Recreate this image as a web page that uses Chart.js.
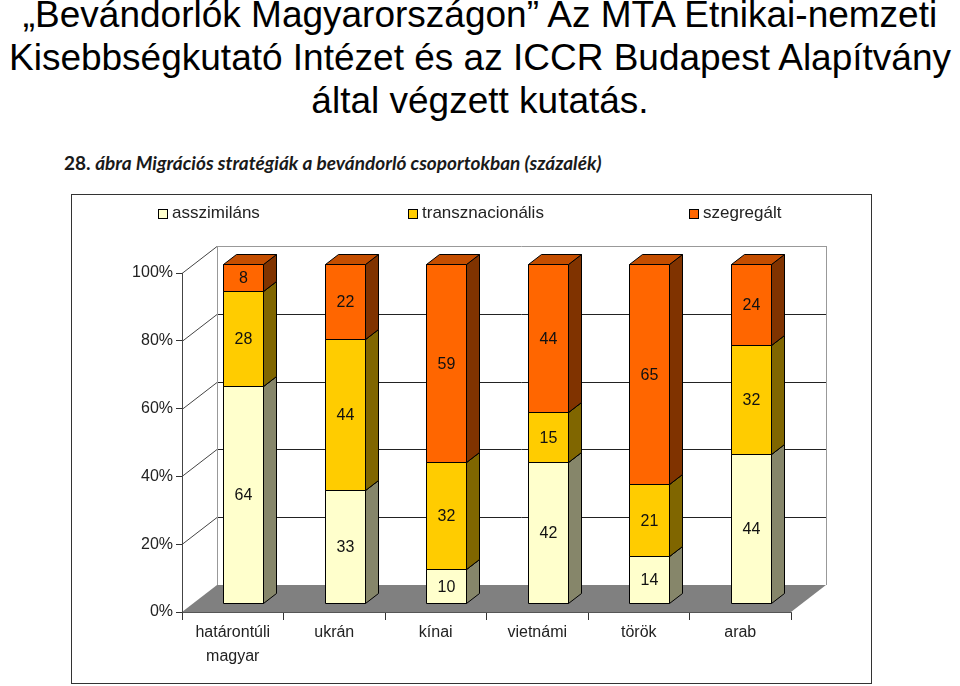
<!DOCTYPE html>
<html>
<head>
<meta charset="utf-8">
<script src="https://cdn.jsdelivr.net/npm/chart.js@4.4.1/dist/chart.umd.min.js"></script>
<style>
  body { margin: 0; background: #fff; }
  #page { position: relative; width: 960px; height: 686px; overflow: hidden; }
  #title {
    position: absolute; left: 0; top: -7px; width: 960px;
    text-align: center; font-family: 'Liberation Sans', Arial, sans-serif;
    font-size: 37px; line-height: 43px; color: #000;
  }
  #subtitle {
    position: absolute; left: 64px; top: 151px;
    font-family: Lato, 'Open Sans', sans-serif; font-weight: bold;
    font-size: 19px; color: #1a1a1a; white-space: nowrap;
  }
  #subtitle i { font-style: italic; }
  #box {
    position: absolute; left: 71px; top: 194px; width: 801px; height: 490px;
    box-sizing: border-box; border: 1px solid #333;
  }
  #chart { position: absolute; left: 0; top: 0; }
</style>
</head>
<body>
<div id="page">
  <div id="title">„Bevándorlók Magyarországon” Az MTA Etnikai-nemzeti<br>Kisebbségkutató Intézet és az ICCR Budapest Alapítvány<br>által végzett kutatás.</div>
  <div id="subtitle">28. <i>ábra Migrációs stratégiák a bevándorló csoportokban (százalék)</i></div>
  <div id="box"></div>
  <canvas id="chart" width="960" height="686"></canvas>
</div>
<script>
const categories = [['határontúli', 'magyar'], 'ukrán', 'kínai', 'vietnámi', 'török', 'arab'];
const seriesNames = ['asszimiláns', 'transznacionális', 'szegregált'];
const asszimilans = [64, 33, 10, 42, 14, 44];
const transznacionalis = [28, 44, 32, 15, 21, 32];
const szegregalt = [8, 22, 59, 44, 65, 24];
const yTicks = [0, 20, 40, 60, 80, 100];

const frontColors = ['#FFFFCC', '#FFCC00', '#FF6600'];
const sideColors = ['#86866A', '#806600', '#803300'];
const topColors = ['#CCCCA3', '#CCA300', '#C44E00'];

const raw = [asszimilans, transznacionalis, szegregalt];
// 100% stacked: each column scaled to its own total
const totals = asszimilans.map((v, i) => v + transznacionalis[i] + szegregalt[i]);
const percent = raw.map(arr => arr.map((v, i) => v / totals[i] * 100));

const FONT = 'Liberation Sans, Arial, sans-serif';
const WALL = { dx: 35, dy: 27 };      // depth of the back wall
const BAR = { dx: 13, dy: 10 };       // depth of each bar
const SHIFT = { dx: 10.5, dy: -9 };   // bars stand a bit behind the front edge

const wallPlugin = {
    id: 'wall',
    beforeDraw(chart) {
        const ctx = chart.ctx;
        const ca = chart.chartArea;
        const y = chart.scales.y;
        const y0 = y.getPixelForValue(0);
        const yTop = y.getPixelForValue(100);
        ctx.save();
        // floor
        ctx.fillStyle = '#808080';
        ctx.beginPath();
        ctx.moveTo(ca.left, y0);
        ctx.lineTo(ca.right, y0);
        ctx.lineTo(ca.right + WALL.dx, y0 - WALL.dy);
        ctx.lineTo(ca.left + WALL.dx, y0 - WALL.dy);
        ctx.closePath();
        ctx.fill();
        // grid on side and back wall
        ctx.lineWidth = 1;
        yTicks.forEach(v => {
            if (v === 0) return;
            const py = Math.round(y.getPixelForValue(v)) + 0.5;
            ctx.strokeStyle = '#444';
            ctx.beginPath();
            ctx.moveTo(ca.left, py);
            ctx.lineTo(ca.left + WALL.dx, py - WALL.dy);
            ctx.stroke();
            ctx.strokeStyle = v === 100 ? '#999' : '#222';
            ctx.beginPath();
            ctx.moveTo(ca.left + WALL.dx, py - WALL.dy);
            ctx.lineTo(ca.right + WALL.dx, py - WALL.dy);
            ctx.stroke();
        });
        ctx.strokeStyle = '#999';
        ctx.beginPath();
        ctx.moveTo(Math.round(ca.left + WALL.dx) + 0.5, yTop - WALL.dy);
        ctx.lineTo(Math.round(ca.left + WALL.dx) + 0.5, y0 - WALL.dy);
        ctx.moveTo(Math.round(ca.right + WALL.dx) + 0.5, yTop - WALL.dy);
        ctx.lineTo(Math.round(ca.right + WALL.dx) + 0.5, y0 - WALL.dy);
        ctx.stroke();
        ctx.restore();
    }
};

function poly(ctx, pts, fill) {
    ctx.beginPath();
    ctx.moveTo(pts[0][0], pts[0][1]);
    for (let i = 1; i < pts.length; i++) ctx.lineTo(pts[i][0], pts[i][1]);
    ctx.closePath();
    ctx.fillStyle = fill;
    ctx.fill();
    ctx.stroke();
}

const barsPlugin = {
    id: 'bars3d',
    beforeDatasetDraw() {
        return false; // bars are drawn below as boxes
    },
    afterDatasetsDraw(chart) {
        const ctx = chart.ctx;
        ctx.save();
        ctx.lineWidth = 1;
        ctx.strokeStyle = '#000';
        chart.data.datasets.forEach((ds, d) => {
            const meta = chart.getDatasetMeta(d);
            meta.data.forEach((el, i) => {
                const p = el.getProps(['x', 'y', 'base', 'width'], true);
                const l = Math.round(p.x - p.width / 2 + SHIFT.dx) + 0.5;
                const r = Math.round(p.x + p.width / 2 + SHIFT.dx) + 0.5;
                const t = Math.round(p.y + SHIFT.dy) + 0.5;
                const b = Math.round(p.base + SHIFT.dy) + 0.5;
                poly(ctx, [[l, t], [r, t], [r, b], [l, b]], frontColors[d]);
                poly(ctx, [[r, t], [r + BAR.dx, t - BAR.dy], [r + BAR.dx, b - BAR.dy], [r, b]], sideColors[d]);
                poly(ctx, [[l, t], [l + BAR.dx, t - BAR.dy], [r + BAR.dx, t - BAR.dy], [r, t]], topColors[d]);
                ctx.fillStyle = '#111';
                ctx.font = '16px ' + FONT;
                ctx.textAlign = 'center';
                ctx.textBaseline = 'middle';
                ctx.fillText(String(raw[d][i]), (l + r) / 2, (t + b) / 2 + 1);
            });
        });
        ctx.restore();
    }
};

const legendX = [158, 408, 689];
const legendPlugin = {
    id: 'legend3d',
    afterDraw(chart) {
        const ctx = chart.ctx;
        ctx.save();
        ctx.font = '17px ' + FONT;
        ctx.textBaseline = 'middle';
        ctx.textAlign = 'left';
        chart.data.datasets.forEach((ds, d) => {
            ctx.fillStyle = frontColors[d];
            ctx.strokeStyle = '#000';
            ctx.lineWidth = 1;
            ctx.fillRect(legendX[d] + 0.5, 209.5, 9, 9);
            ctx.strokeRect(legendX[d] + 0.5, 209.5, 9, 9);
            ctx.fillStyle = '#222';
            ctx.fillText(ds.label, legendX[d] + 14, 213);
        });
        ctx.restore();
    }
};

new Chart(document.getElementById('chart'), {
    type: 'bar',
    data: {
        labels: categories,
        datasets: seriesNames.map((name, d) => ({
            label: name,
            data: percent[d],
            backgroundColor: frontColors[d],
            categoryPercentage: 1,
            barPercentage: 0.394
        }))
    },
    plugins: [wallPlugin, barsPlugin, legendPlugin],
    options: {
        responsive: false,
        animation: false,
        layout: { padding: { left: 0, top: 273, right: 169, bottom: 0 } },
        plugins: {
            legend: { display: false },
            tooltip: { enabled: false }
        },
        scales: {
            x: {
                stacked: true,
                grid: { offset: true, drawOnChartArea: false, tickLength: 8, color: '#333' },
                border: { color: '#555' },
                ticks: { color: '#222', font: { family: FONT, size: 16, lineHeight: 1.5 }, padding: 1, maxRotation: 0 },
                afterFit(s) { s.height = 74; }
            },
            y: {
                stacked: true,
                min: 0,
                max: 100,
                grid: { drawOnChartArea: false, tickLength: 6, color: '#333' },
                border: { color: '#444' },
                ticks: {
                    stepSize: 20,
                    padding: 3,
                    color: '#222',
                    font: { family: FONT, size: 16 },
                    callback: v => v + '%'
                },
                afterFit(s) { s.width = 182; }
            }
        }
    }
});
</script>
</body>
</html>
